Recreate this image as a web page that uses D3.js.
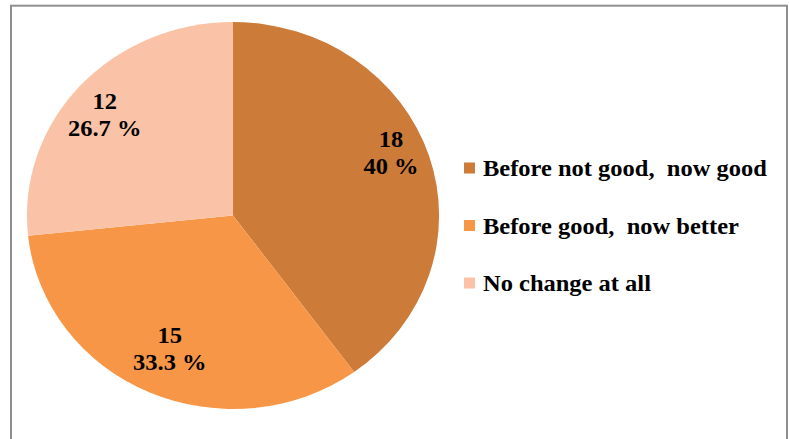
<!DOCTYPE html>
<html>
<head>
<meta charset="utf-8">
<script src="https://cdn.jsdelivr.net/npm/d3@7"></script>
<style>
  body { margin: 0; background: #fff; }
  text { font-family: "Liberation Serif", "Times New Roman", serif; font-weight: bold; fill: #000; }
</style>
</head>
<body>
<div id="chart"></div>
<script>
// Chart data
var categories = ["Before not good,  now good", "Before good,  now better", "No change at all"];
var counts = [18, 15, 12];
var percentLabels = ["40 %", "33.3 %", "26.7 %"];
var colors = ["#CD7B39", "#F79646", "#FAC3A8"];

// SVG area
var svgWidth = 789;
var svgHeight = 439;

// the original picture is a bit wider than tall, so draw in a stretched group
var stretchX = 1.065;
var radius = 193.5;
var centerX = 218.8;
var centerY = 215.5;

var svg = d3.select("#chart")
  .append("svg")
  .attr("width", svgWidth)
  .attr("height", svgHeight);

// outer frame
svg.append("rect")
  .attr("x", 11)
  .attr("y", 5.7)
  .attr("width", 776)
  .attr("height", 450)
  .attr("fill", "none")
  .attr("stroke", "#8f8f8f")
  .attr("stroke-width", 2);

var chartGroup = svg.append("g")
  .attr("transform", `scale(${stretchX}, 1)`);

var pieGroup = chartGroup.append("g")
  .attr("transform", `translate(${centerX}, ${centerY})`);

var pie = d3.pie().sort(null).value(d => d);
var arcs = pie(counts);

var arc = d3.arc().innerRadius(0).outerRadius(radius);

pieGroup.selectAll("path")
  .data(arcs)
  .enter()
  .append("path")
  .attr("d", arc)
  .attr("fill", (d, i) => colors[i]);

// labels sit near the rim, nudged like the "best fit" placement
var labelAngleShift = [-0.085, 0, -0.037];
var labelRadius = [161, 146, 157];

var labels = pieGroup.selectAll(".slice-label")
  .data(arcs)
  .enter()
  .append("text")
  .attr("class", "slice-label")
  .attr("text-anchor", "middle")
  .style("font-size", "23px")
  .attr("transform", function(d, i) {
    var a = (d.startAngle + d.endAngle) / 2 + labelAngleShift[i];
    var x = labelRadius[i] * Math.sin(a);
    var y = -labelRadius[i] * Math.cos(a);
    return `translate(${x}, ${y})`;
  });

labels.append("tspan")
  .attr("x", 0)
  .attr("y", -5.5)
  .text((d, i) => counts[i]);

labels.append("tspan")
  .attr("x", 0)
  .attr("y", 21)
  .text((d, i) => percentLabels[i]);

// Legend
var legendY = d3.scalePoint()
  .domain(categories)
  .range([168, 283]);

var legend = chartGroup.selectAll(".legend")
  .data(categories)
  .enter()
  .append("g")
  .attr("class", "legend")
  .attr("transform", d => `translate(435.7, ${legendY(d)})`);

legend.append("rect")
  .attr("x", 0)
  .attr("y", -5.5)
  .attr("width", 10.3)
  .attr("height", 11)
  .attr("fill", (d, i) => colors[i]);

legend.append("text")
  .attr("x", 17.8)
  .attr("y", 8)
  .style("font-size", "23px")
  .style("white-space", "pre")
  .text(d => d);
</script>
</body>
</html>
